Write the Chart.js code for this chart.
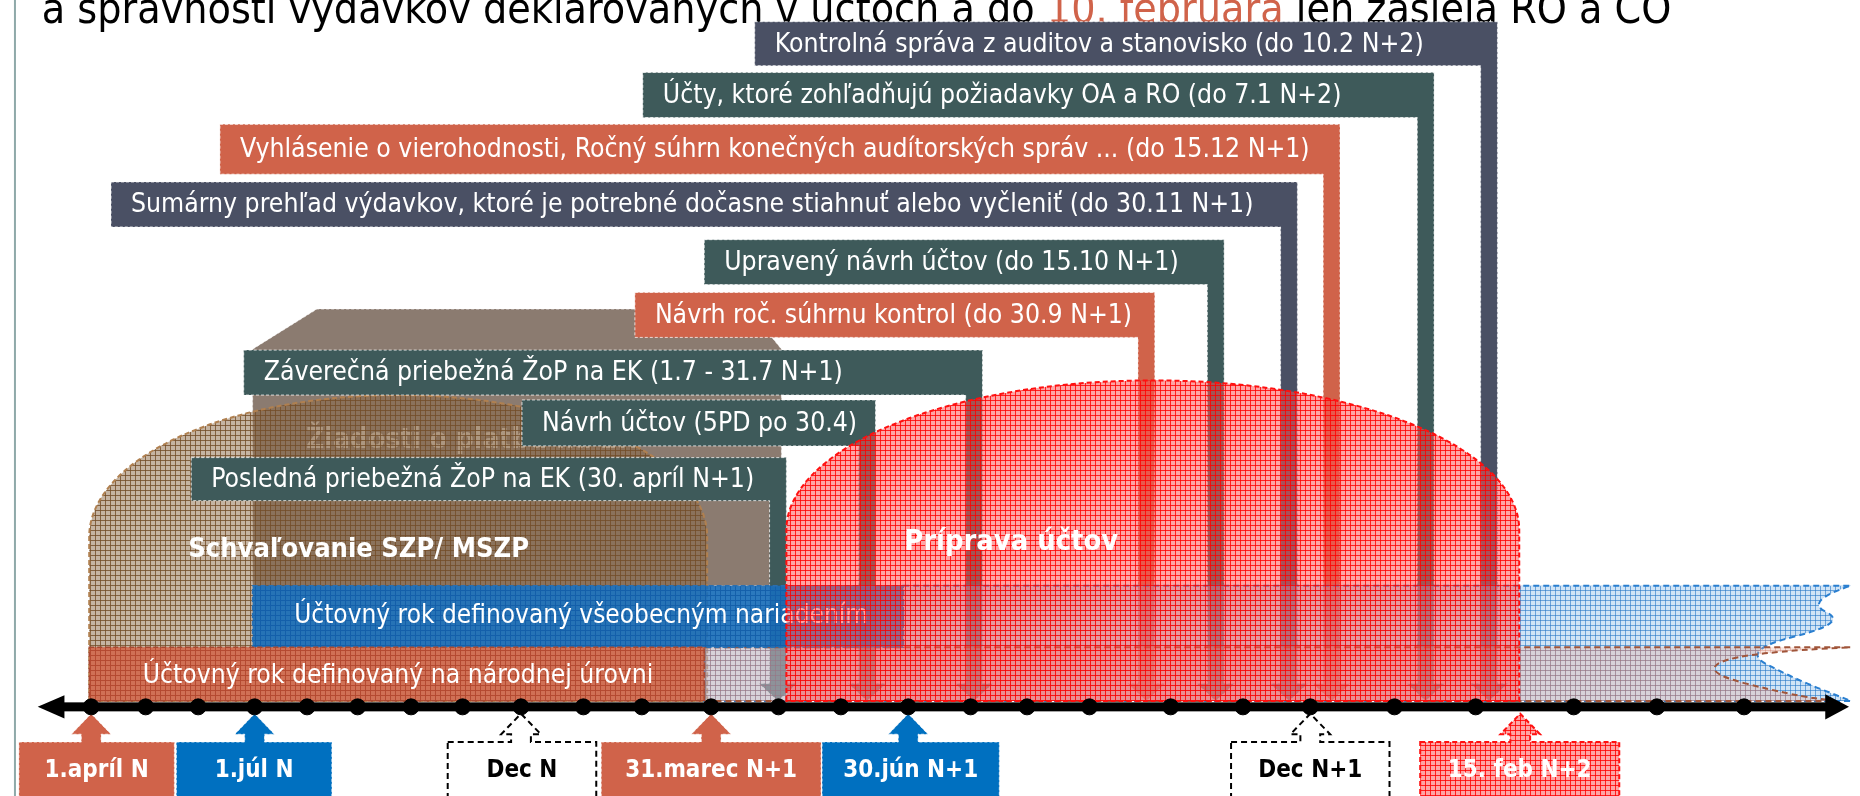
<!DOCTYPE html>
<html lang="sk">
<head>
<meta charset="utf-8">
<title>Účtovný rok – časová os</title>
<script src="https://cdn.jsdelivr.net/npm/chart.js@4.4.1/dist/chart.umd.min.js"></script>
<style>
  html, body { margin: 0; padding: 0; background: #fff; overflow: hidden; }
  #wrap { width: 1860px; height: 796px; position: relative; }
</style>
</head>
<body>
<div id="wrap"><canvas id="chart"></canvas></div>
<script>
// --- data (timeline positions on x, heights on y, both in diagram units) ---
const titleParts = ['a správnosti výdavkov deklarovaných v účtoch a do ', '10. februára', ' len zasiela RO a CO'];

const timelineDots = [83, 138, 191, 248, 301, 352, 406, 458, 517, 580, 639, 709, 777, 840, 908,
  971, 1028, 1091, 1173, 1246, 1314, 1399, 1481, 1580, 1664, 1752];
const timelineLevel = 714;

const deadlineLabels = [
  'Kontrolná správa z auditov a stanovisko (do 10.2 N+2)',
  'Účty, ktoré zohľadňujú požiadavky OA a RO (do 7.1 N+2)',
  'Vyhlásenie o vierohodnosti, Ročný súhrn konečných audítorských správ ... (do 15.12 N+1)',
  'Sumárny prehľad výdavkov, ktoré je potrebné dočasne stiahnuť alebo vyčleniť (do 30.11 N+1)',
  'Upravený návrh účtov (do 15.10 N+1)',
  'Návrh roč. súhrnu kontrol (do 30.9 N+1)',
  'Záverečná priebežná ŽoP na EK (1.7 - 31.7 N+1)',
  'Návrh účtov (5PD po 30.4)',
  'Posledná priebežná ŽoP na EK (30. apríl N+1)'
];
const deadlineFrom = [753, 640, 213, 103, 702, 632, 237, 518, 184];
const deadlineAt = [1503, 1439, 1344, 1301, 1227, 1157, 983, 875, 785];
const deadlineTop = [13, 65, 118, 177, 236, 290, 349, 400, 459];
const deadlineBottom = [58, 111, 169, 223, 282, 336, 395, 447, 503];

const milestoneLabels = ['1.apríl N', '1.júl N', 'Dec N', '31.marec N+1', '30.jún N+1', 'Dec N+1', '15. feb N+2'];
const milestoneAt = [83, 248, 517, 709, 908, 1314, 1526];
const milestoneFrom = [10, 169, 443, 598, 821, 1234, 1425];
const milestoneTo = [167, 326, 593, 820, 1000, 1394, 1626];

// periods: [start, end] on the timeline, [top, bottom] heights
const approvalPeriod = [81, 705];        // Schvaľovanie SZP/ MSZP
const approvalTop = [540, 395];          // shoulder, peak
const paymentPeriod = [246, 780];        // Žiadosti o platbu
const paymentTop = [348, 307];
const preparationPeriod = [785, 1525];   // Príprava účtov
const preparationTop = [533, 380];
const generalYear = [246, 903];          // Účtovný rok – všeobecné nariadenie
const generalBand = [590, 653];
const nationalYear = [81, 702];          // Účtovný rok – národná úroveň
const nationalBand = [653, 708];
// torn right ends of the following years
const generalTear = [[1860, 590], [1812, 606], [1858, 628], [1748, 656], [1800, 684], [1860, 708]];
const nationalTear = [[1860, 653], [1752, 658], [1707, 678], [1800, 702], [1845, 708]];

// --- styles ---
const C = {
  slate: '#4a5064', teal: '#3e5a5a', orange: '#d0634a', blue: '#0070c0',
  gray: '#8b7b70', text: '#ffffff', title: '#000000'
};
const deadlineColors = [C.slate, C.teal, C.orange, C.slate, C.teal, C.orange, C.teal, C.teal, C.teal];
const milestoneKinds = ['orange', 'blue', 'open', 'orange', 'blue', 'open', 'red'];
const FONT = '"DejaVu Sans Condensed", "Open Sans", sans-serif';

function hatch(ctx, base, line, size) {
  const c = document.createElement('canvas');
  c.width = c.height = size;
  const g = c.getContext('2d');
  g.fillStyle = base; g.fillRect(0, 0, size, size);
  g.fillStyle = line; g.fillRect(0, 0, size, 1); g.fillRect(0, 0, 1, size);
  return ctx.createPattern(c, 'repeat');
}

function fitSize(ctx, text, weight, width) {
  ctx.font = `${weight} 100px ${FONT}`;
  return 100 * width / ctx.measureText(text).width;
}

const diagram = {
  id: 'diagram',
  beforeDatasetsDraw(chart) {
    const ctx = chart.ctx;
    const xs = chart.scales.x, ys = chart.scales.y;
    const X = v => xs.getPixelForValue(v);
    const Y = v => ys.getPixelForValue(v);
    const P = {
      red: hatch(ctx, 'rgba(255,80,80,0.52)', 'rgba(255,0,0,0.8)', 5),
      brown: hatch(ctx, 'rgba(140,105,70,0.5)', 'rgba(115,78,40,0.8)', 5),
      orange: hatch(ctx, 'rgba(210,100,72,0.85)', 'rgba(180,72,48,0.9)', 5),
      blue: hatch(ctx, 'rgba(25,110,185,0.92)', 'rgba(20,95,170,0.95)', 5),
      lightBlue: hatch(ctx, 'rgba(150,195,235,0.45)', 'rgba(40,120,200,0.6)', 5),
      lightOrange: hatch(ctx, 'rgba(235,170,150,0.3)', 'rgba(200,110,90,0.35)', 5)
    };
    ctx.save();

    // left frame line
    ctx.fillStyle = '#8fa9a9';
    ctx.fillRect(X(5), 0, 2, chart.height);

    // title (cut at top)
    const tSize = fitSize(ctx, titleParts.join(''), 'normal', 1630);
    ctx.font = `normal ${tSize}px ${FONT}`;
    ctx.textBaseline = 'alphabetic';
    let tx = X(33);
    titleParts.forEach((s, i) => {
      ctx.fillStyle = i === 1 ? C.orange : C.title;
      ctx.fillText(s, tx, Y(14));
      tx += ctx.measureText(s).width;
    });

    // Žiadosti o platbu shape
    ctx.beginPath();
    ctx.moveTo(X(paymentPeriod[0]), Y(paymentTop[0]));
    ctx.lineTo(X(paymentPeriod[0] + 65), Y(paymentTop[1]));
    ctx.lineTo(X(paymentPeriod[1] - 33), Y(paymentTop[1]));
    ctx.lineTo(X(paymentPeriod[1]), Y(paymentTop[0]));
    ctx.lineTo(X(paymentPeriod[1]), Y(generalBand[0]));
    ctx.lineTo(X(paymentPeriod[0]), Y(generalBand[0]));
    ctx.closePath();
    ctx.fillStyle = C.gray; ctx.fill();
    ctx.setLineDash([3, 2]); ctx.lineWidth = 1; ctx.strokeStyle = 'rgba(255,255,255,0.6)'; ctx.stroke();
    ctx.setLineDash([]);
    ctx.font = `bold 28px ${FONT}`;
    ctx.fillStyle = 'rgba(210,200,190,0.95)';
    ctx.textBaseline = 'middle';
    ctx.fillText('Žiadosti o platbu na EK', X(300), Y(442));

    // Schvaľovanie dome
    const dome = (period, top, bottom) => {
      const cx = (period[0] + period[1]) / 2, rx = (period[1] - period[0]) / 2;
      ctx.beginPath();
      ctx.moveTo(X(period[0]), Y(bottom));
      ctx.lineTo(X(period[0]), Y(top[0]));
      ctx.ellipse(X(cx), Y(top[0]), X(cx + rx) - X(cx), Math.abs(Y(top[0]) - Y(top[1])), 0, Math.PI, 2 * Math.PI);
      ctx.lineTo(X(period[1]), Y(bottom));
      ctx.closePath();
    };
    dome(approvalPeriod, approvalTop, nationalBand[1]);
    ctx.fillStyle = P.brown; ctx.fill();
    ctx.setLineDash([5, 3]); ctx.lineWidth = 2; ctx.strokeStyle = '#b08050'; ctx.stroke();
    ctx.setLineDash([]);
    const sSize = fitSize(ctx, 'Schvaľovanie SZP/ MSZP', 'bold', 341);
    ctx.font = `bold ${sSize}px ${FONT}`;
    ctx.fillStyle = C.text;
    ctx.fillText('Schvaľovanie SZP/ MSZP', X(181), Y(553));

    // deadline boxes with legs down to the timeline
    const bSize = fitSize(ctx, deadlineLabels[3], 'normal', 1123);
    deadlineLabels.forEach((label, i) => {
      const x0 = X(deadlineFrom[i]), x1 = X(deadlineAt[i]);
      const legL = X(deadlineAt[i] - 17), mid = (legL + x1) / 2;
      const y0 = Y(deadlineTop[i]), y1 = Y(deadlineBottom[i]);
      const tipY = Y(nationalBand[1]), headY = Y(nationalBand[1] - 18);
      ctx.fillStyle = deadlineColors[i];
      ctx.beginPath();
      ctx.moveTo(x0, y0); ctx.lineTo(x1, y0); ctx.lineTo(x1, headY);
      ctx.lineTo(mid + 19, headY); ctx.lineTo(mid, tipY); ctx.lineTo(mid - 19, headY);
      ctx.lineTo(legL, headY); ctx.lineTo(legL, y1); ctx.lineTo(x0, y1); ctx.closePath();
      ctx.fill();
      ctx.setLineDash([3, 2]); ctx.lineWidth = 1; ctx.strokeStyle = 'rgba(255,255,255,0.75)'; ctx.stroke();
      ctx.setLineDash([]);
      ctx.font = `normal ${bSize}px ${FONT}`;
      ctx.fillStyle = C.text; ctx.textBaseline = 'middle';
      ctx.fillText(label, x0 + 20, (y0 + y1) / 2 + 1);
    });

    // next accounting years, light, with torn right ends
    const tear = pts => {
      ctx.lineTo(X(pts[0][0]), Y(pts[0][1]));
      for (let k = 1; k < pts.length - 1; k++) {
        const mx = (pts[k][0] + pts[k + 1][0]) / 2, my = (pts[k][1] + pts[k + 1][1]) / 2;
        ctx.quadraticCurveTo(X(pts[k][0]), Y(pts[k][1]), X(mx), Y(my));
      }
      const last = pts[pts.length - 1];
      ctx.lineTo(X(last[0]), Y(last[1]));
    };
    ctx.beginPath();
    ctx.moveTo(X(generalYear[1]), Y(generalBand[0]));
    tear(generalTear);
    ctx.lineTo(X(nationalYear[1]), Y(nationalBand[1]));
    ctx.lineTo(X(nationalYear[1]), Y(nationalBand[0]));
    ctx.lineTo(X(generalYear[1]), Y(nationalBand[0]));
    ctx.closePath();
    ctx.fillStyle = P.lightBlue; ctx.fill();
    ctx.setLineDash([6, 4]); ctx.lineWidth = 2; ctx.strokeStyle = '#2a7fd0'; ctx.stroke();

    ctx.beginPath();
    ctx.moveTo(X(nationalYear[1]), Y(nationalBand[0]));
    tear(nationalTear);
    ctx.lineTo(X(nationalYear[1]), Y(nationalBand[1]));
    ctx.closePath();
    ctx.fillStyle = P.lightOrange; ctx.fill();
    ctx.strokeStyle = '#a0553a'; ctx.stroke();
    ctx.setLineDash([]);

    // accounting year by general regulation
    ctx.fillStyle = P.blue;
    ctx.fillRect(X(generalYear[0]), Y(generalBand[0]), X(generalYear[1]) - X(generalYear[0]), Y(generalBand[1]) - Y(generalBand[0]));
    ctx.setLineDash([5, 3]); ctx.lineWidth = 1.5; ctx.strokeStyle = '#2a6fb0';
    ctx.strokeRect(X(generalYear[0]), Y(generalBand[0]), X(generalYear[1]) - X(generalYear[0]), Y(generalBand[1]) - Y(generalBand[0]));
    ctx.setLineDash([]);
    const gSize = fitSize(ctx, 'Účtovný rok definovaný všeobecným nariadením', 'normal', 574);
    ctx.font = `normal ${gSize}px ${FONT}`;
    ctx.fillStyle = C.text;
    ctx.fillText('Účtovný rok definovaný všeobecným nariadením', X(288), Y(621));

    // accounting year at national level
    ctx.fillStyle = P.orange;
    ctx.fillRect(X(nationalYear[0]), Y(nationalBand[0]), X(nationalYear[1]) - X(nationalYear[0]), Y(nationalBand[1]) - Y(nationalBand[0]));
    ctx.setLineDash([5, 3]); ctx.lineWidth = 1.5; ctx.strokeStyle = '#a84a32';
    ctx.strokeRect(X(nationalYear[0]), Y(nationalBand[0]), X(nationalYear[1]) - X(nationalYear[0]), Y(nationalBand[1]) - Y(nationalBand[0]));
    ctx.setLineDash([]);
    const nSize = fitSize(ctx, 'Účtovný rok definovaný na národnej úrovni', 'normal', 511);
    ctx.font = `normal ${nSize}px ${FONT}`;
    ctx.fillStyle = C.text;
    ctx.fillText('Účtovný rok definovaný na národnej úrovni', X(135), Y(683));

    // Príprava účtov dome
    dome(preparationPeriod, preparationTop, nationalBand[1]);
    ctx.fillStyle = P.red; ctx.fill();
    ctx.setLineDash([5, 3]); ctx.lineWidth = 2; ctx.strokeStyle = '#ff1010'; ctx.stroke();
    ctx.setLineDash([]);
    const pSize = fitSize(ctx, 'Príprava účtov', 'bold', 214);
    ctx.font = `bold ${pSize}px ${FONT}`;
    ctx.fillStyle = C.text;
    ctx.fillText('Príprava účtov', X(904), Y(546));

    // milestone callouts under the timeline
    const mSize = fitSize(ctx, milestoneLabels[3], 'bold', 172);
    milestoneLabels.forEach((label, i) => {
      const kind = milestoneKinds[i];
      const a = milestoneAt[i];
      ctx.beginPath();
      ctx.moveTo(X(milestoneFrom[i]), Y(750));
      ctx.lineTo(X(a - 10), Y(750)); ctx.lineTo(X(a - 10), Y(742)); ctx.lineTo(X(a - 20), Y(742));
      ctx.lineTo(X(a), Y(721));
      ctx.lineTo(X(a + 20), Y(742)); ctx.lineTo(X(a + 10), Y(742)); ctx.lineTo(X(a + 10), Y(750));
      ctx.lineTo(X(milestoneTo[i]), Y(750)); ctx.lineTo(X(milestoneTo[i]), Y(810));
      ctx.lineTo(X(milestoneFrom[i]), Y(810)); ctx.closePath();
      if (kind === 'open') {
        ctx.fillStyle = '#ffffff'; ctx.fill();
        ctx.setLineDash([6, 4]); ctx.lineWidth = 2; ctx.strokeStyle = '#000000'; ctx.stroke();
      } else if (kind === 'red') {
        ctx.fillStyle = P.red; ctx.fill();
        ctx.setLineDash([5, 3]); ctx.lineWidth = 2; ctx.strokeStyle = '#ff1010'; ctx.stroke();
      } else {
        ctx.fillStyle = kind === 'blue' ? C.blue : C.orange; ctx.fill();
        ctx.setLineDash([3, 2]); ctx.lineWidth = 1; ctx.strokeStyle = 'rgba(255,255,255,0.7)'; ctx.stroke();
      }
      ctx.setLineDash([]);
      ctx.font = `bold ${mSize}px ${FONT}`;
      ctx.fillStyle = kind === 'open' ? '#000000' : C.text;
      ctx.textAlign = 'center';
      ctx.fillText(label, (X(milestoneFrom[i]) + X(milestoneTo[i])) / 2, Y(779));
      ctx.textAlign = 'left';
    });

    // timeline with arrowheads at both ends
    ctx.fillStyle = '#000';
    ctx.fillRect(X(45), Y(timelineLevel) - 4.5, X(1842) - X(45), 9);
    ctx.beginPath();
    ctx.moveTo(X(29), Y(timelineLevel)); ctx.lineTo(X(56), Y(timelineLevel - 12)); ctx.lineTo(X(56), Y(timelineLevel + 12));
    ctx.closePath(); ctx.fill();
    ctx.beginPath();
    ctx.moveTo(X(1858), Y(timelineLevel)); ctx.lineTo(X(1834), Y(timelineLevel - 13)); ctx.lineTo(X(1834), Y(timelineLevel + 13));
    ctx.closePath(); ctx.fill();

    ctx.restore();
  }
};

new Chart(document.getElementById('chart'), {
  type: 'scatter',
  data: {
    datasets: [{
      label: 'Mesiace',
      data: timelineDots.map(v => ({ x: v, y: timelineLevel })),
      backgroundColor: '#000',
      borderColor: '#000',
      pointRadius: 8,
      pointHoverRadius: 8
    }]
  },
  options: {
    responsive: true,
    maintainAspectRatio: false,
    animation: false,
    devicePixelRatio: 1,
    layout: { padding: 0 },
    scales: {
      x: { type: 'linear', min: 0, max: 1860, display: false },
      y: { type: 'linear', min: 0, max: 796, reverse: true, display: false }
    },
    plugins: { legend: { display: false }, tooltip: { enabled: false } }
  },
  plugins: [diagram]
});
</script>
</body>
</html>
